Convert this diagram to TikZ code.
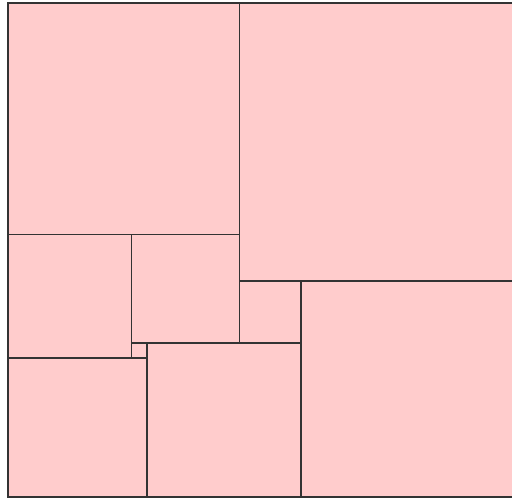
\documentclass[tikz,border=0pt]{standalone}
\definecolor{sqfill}{HTML}{FFCCCC}
\definecolor{sqline}{HTML}{333333}
\tikzset{sqfillstyle/.style={fill=sqfill},sqdraw/.style={draw=sqline,line width=1.3pt}}
\begin{document}
\begin{tikzpicture}[x=0.75pt,y=-0.75pt]
\useasboundingbox (0,0) rectangle (512,499);
\begin{scope}[shift={(8,3)},x=11.58pt,y=-11.58pt]
\path[clip] (-1,-1) rectangle (32.7,32.6);
\foreach \a/\b/\c/\d in {0/0/15/15, 15/0/33/18, 0/15/8/23, 8/15/15/22, 0/23/9/32, 8/22/9/23, 9/22/19/32, 15/18/19/22, 19/18/33/32}
  \fill[sqfillstyle] (\a,\b) rectangle (\c,\d);
\foreach \a/\b/\c/\d in {0/0/15/15, 15/0/33/18, 0/15/8/23, 8/15/15/22, 0/23/9/32, 8/22/9/23, 9/22/19/32, 15/18/19/22, 19/18/33/32}
  \draw[sqdraw] (\a,\b) rectangle (\c,\d);
\end{scope}
\end{tikzpicture}
\end{document}
